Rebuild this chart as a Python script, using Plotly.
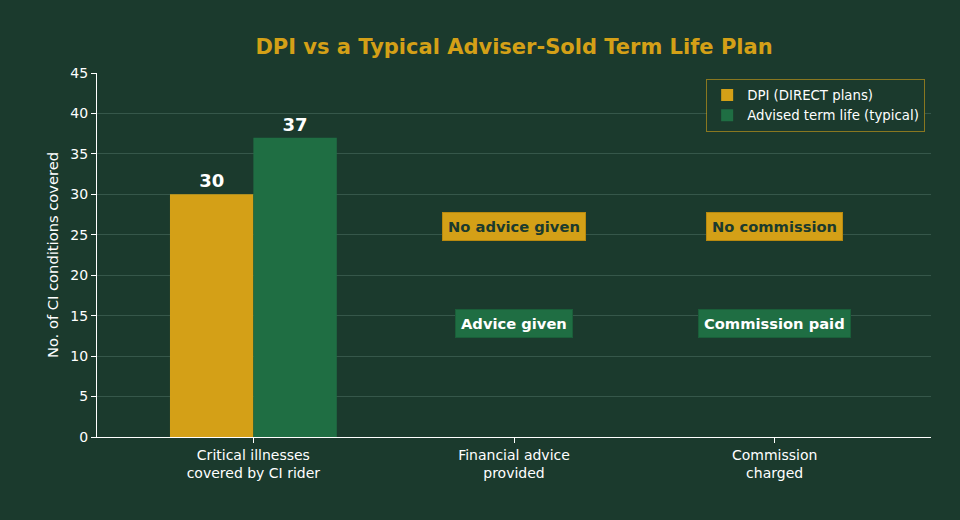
"""DPI vs a typical adviser-sold term life plan"""

from plotly.graph_objects import Bar, Figure

# data
categories = ["Critical illnesses<br>covered by CI rider",
              "Financial advice<br>provided",
              "Commission<br>charged"]
dpi_values = [30, None, None]
advised_values = [37, None, None]
series_names = ["DPI (DIRECT plans)", "Advised term life (typical)"]

# text boxes for the non-numeric rows
dpi_notes = ["No advice given", "No commission"]
advised_notes = ["Advice given", "Commission paid"]
note_rows = [1, 2]
dpi_note_y = 26
advised_note_y = 14

BG = "#1b3a2d"
GOLD = "#d4a017"
GREEN = "#1f6e43"
GRID = "#36574a"
FONT = "DejaVu Sans"


def main():
    fig = Figure()
    fig.add_trace(Bar(x=categories, y=dpi_values, name=series_names[0],
                      marker_color=GOLD, marker_line_width=0,
                      texttemplate="<b>%{y}</b>", textposition="outside",
                      textfont=dict(color="white", size=18, family=FONT),
                      cliponaxis=False))
    fig.add_trace(Bar(x=categories, y=advised_values, name=series_names[1],
                      marker_color=GREEN, marker_line_width=0,
                      texttemplate="<b>%{y}</b>", textposition="outside",
                      textfont=dict(color="white", size=18, family=FONT),
                      cliponaxis=False))

    for i, k in enumerate(note_rows):
        fig.add_annotation(x=categories[k], y=dpi_note_y, text="<b>" + dpi_notes[i] + "</b>",
                           showarrow=False, bgcolor=GOLD, bordercolor="#b8890f",
                           borderwidth=1, borderpad=5,
                           font=dict(color=BG, size=14.7, family=FONT))
        fig.add_annotation(x=categories[k], y=advised_note_y, text="<b>" + advised_notes[i] + "</b>",
                           showarrow=False, bgcolor=GREEN, bordercolor="#1a5e39",
                           borderwidth=1, borderpad=5,
                           font=dict(color="white", size=14.7, family=FONT))

    fig.update_layout(
        width=960, height=520,
        paper_bgcolor=BG, plot_bgcolor=BG,
        font=dict(family=FONT, color="white", size=14),
        margin=dict(l=97, r=29, t=73, b=83),
        barmode="group", bargap=0.36, bargroupgap=0,
        title=dict(text="<b>DPI vs a Typical Adviser-Sold Term Life Plan</b>",
                   font=dict(color=GOLD, size=21, family=FONT),
                   x=0.5, xref="paper", xanchor="center",
                   y=1 - 47 / 520, yref="container", yanchor="middle"),
        legend=dict(x=0.993, y=0.984, xanchor="right", yanchor="top",
                    bgcolor=BG, bordercolor="rgba(212,160,23,0.6)", borderwidth=1,
                    font=dict(color="white", size=13.3, family=FONT)),
        xaxis=dict(range=[-0.6, 2.6], showgrid=False, showline=True,
                   linecolor="white", linewidth=1, ticks="outside", ticklen=5,
                   tickcolor="white", tickfont=dict(size=14, color="white"),
                   zeroline=False),
        yaxis=dict(range=[0, 45], dtick=5, showgrid=True, gridcolor=GRID, gridwidth=1,
                   showline=True, linecolor="white", linewidth=1, ticks="outside",
                   ticklen=5, tickcolor="white", tickfont=dict(size=14, color="white"),
                   zeroline=False,
                   title=dict(text="No. of CI conditions covered",
                              font=dict(size=14.7, color="white"), standoff=8)),
    )
    fig.write_html("out.html", config={"displayModeBar": False},
                   post_script="document.body.style.margin='0';")


if __name__ == "__main__":
    main()
